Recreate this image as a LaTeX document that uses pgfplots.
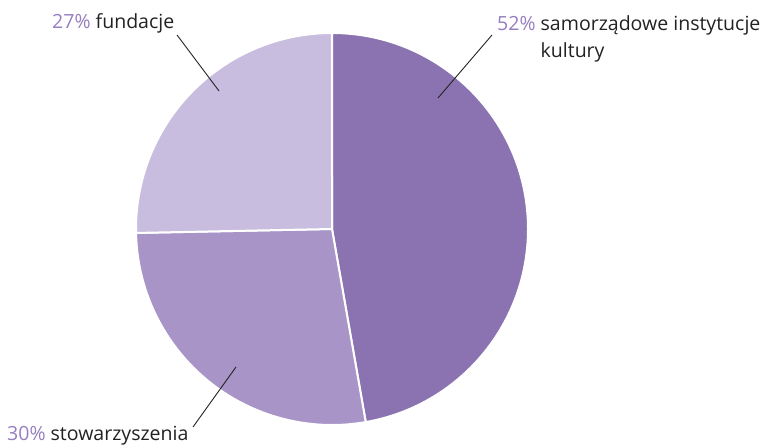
\documentclass[border=0pt]{standalone}
\usepackage{pgfplots}
\pgfplotsset{compat=1.18}
\usepackage{pgfplotstable}
\usepackage{fontspec}
\setmainfont{Open Sans}

\definecolor{sliceA}{RGB}{139,115,178}
\definecolor{sliceB}{RGB}{168,148,198}
\definecolor{sliceC}{RGB}{200,189,222}
\definecolor{pct}{RGB}{150,126,192}
\definecolor{txt}{RGB}{34,34,34}

% slice sizes as drawn (labels: 52%, 30%, 27%)
\pgfplotstableread{
name value
samorzadowe 51.5
stowarzyszenia 29.9
fundacje 27.6
}\piedata

\pgfplotstablegetelem{0}{value}\of\piedata \let\vA\pgfplotsretval
\pgfplotstablegetelem{1}{value}\of\piedata \let\vB\pgfplotsretval
\pgfplotstablegetelem{2}{value}\of\piedata \let\vC\pgfplotsretval
\pgfmathsetmacro\total{\vA+\vB+\vC}
\pgfmathsetmacro\aA{90-\vA/\total*360}
\pgfmathsetmacro\aB{\aA-\vB/\total*360}
\pgfmathsetmacro\aC{\aB-\vC/\total*360}

\tikzset{lbl/.style={font=\fontsize{19.6}{23}\selectfont, text=txt, inner sep=0pt, anchor=base west}}

\begin{document}
\begin{tikzpicture}
\begin{axis}[
  x=1bp, y=1bp, xmin=0, xmax=763, ymin=0, ymax=446,
  hide axis, clip=false, scale only axis,
]
\path (axis cs:0,0) rectangle (axis cs:763,446);
\fill[sliceA, draw=white, line width=2bp] (axis cs:332,217) -- ++(90:196bp)
  arc[start angle=90, end angle=\aA, radius=196bp] -- cycle;
\fill[sliceB, draw=white, line width=2bp] (axis cs:332,217) -- ++(\aA:196bp)
  arc[start angle=\aA, end angle=\aB, radius=196bp] -- cycle;
\fill[sliceC, draw=white, line width=2bp] (axis cs:332,217) -- ++(\aB:196bp)
  arc[start angle=\aB, end angle=\aC, radius=196bp] -- cycle;

\draw[txt, line width=0.9bp] (axis cs:177,411) -- (axis cs:219,355);
\draw[txt, line width=0.9bp] (axis cs:492,411) -- (axis cs:438,348);
\draw[txt, line width=0.9bp] (axis cs:236,79) -- (axis cs:193,19);

\node[lbl] at (axis cs:52,417) {\textcolor{pct}{27\%} fundacje};
\node[lbl] at (axis cs:497,415) {\textcolor{pct}{52\%} samorządowe instytucje};
\node[lbl] at (axis cs:497,388) {\phantom{52\% }kultury};
\node[lbl] at (axis cs:7,5) {\textcolor{pct}{30\%} stowarzyszenia};
\end{axis}
\end{tikzpicture}
\end{document}
